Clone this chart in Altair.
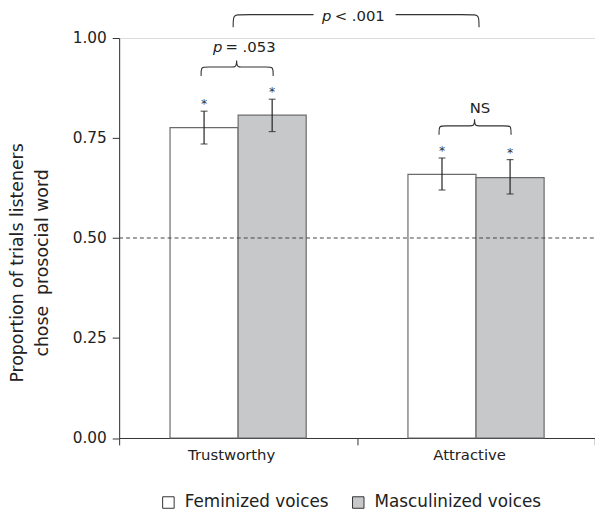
import altair as alt
import pandas as pd

# ---------------- data ----------------
categories = ["Trustworthy", "Attractive"]
series = ["Feminized voices", "Masculinized voices"]
mean_fem = [0.776, 0.659]
mean_masc = [0.807, 0.651]
lo_fem = [0.735, 0.620]
hi_fem = [0.817, 0.700]
lo_masc = [0.766, 0.610]
hi_masc = [0.847, 0.696]
significance = ["*", "*"]  # each bar differs from chance
pair_p_italic = ["p", ""]
pair_p_rest = ["= .053", "NS"]
between_p_italic = "p"
between_p_rest = "< .001"
chance_level = 0.5
y_ticks = [0.0, 0.25, 0.5, 0.75, 1.0]
y_title = ["Proportion of trials listeners", "chose\u00a0 prosocial word"]

# ---------------- layout / style ----------------
W, H = 481.2, 404.5
PXX = 2.0 / W          # data units per pixel (x)
PXY = 1.0 / H          # data units per pixel (y)
BAR_W = 68.85 * PXX
FONT = "DejaVu Sans"
TXT = "#222222"
AX = "#333333"

means = [mean_fem, mean_masc]
los = [lo_fem, lo_masc]
his = [hi_fem, hi_masc]

rows = []
for i, cat in enumerate(categories):
    for j, s in enumerate(series):
        x0 = i + 0.5 + (j - 1) * BAR_W
        rows.append(dict(cat=cat, series=s, x=x0, x2=x0 + BAR_W, xc=x0 + BAR_W / 2,
                         mean=means[j][i], lo=los[j][i], hi=his[j][i], base=0.0,
                         sig=significance[j]))
bars = pd.DataFrame(rows)

# brackets (annotation geometry derived from bar positions / error tops)
br = []
txt_it = []
txt_rg = []
levels = []
for i, cat in enumerate(categories):
    sub = bars[bars.cat == cat]
    xl = sub.xc.iloc[0] - 3 * PXX
    xr = sub.xc.iloc[1] + 1 * PXX
    xm = i + 0.5 - 1.5 * PXX
    lvl = sub.hi.max() + 32.5 * PXY
    levels.append(lvl)
    yend = lvl - 9 * PXY
    ypk = lvl + 10 * PXY
    r = 4 * PXX
    pts = [(xl, yend), (xl, lvl), (xl + r, lvl), (xm - r, lvl), (xm, lvl), (xm, ypk),
           (xm, lvl), (xm + r, lvl), (xr - r, lvl), (xr, lvl), (xr, yend)]
    for k, (px, py) in enumerate(pts):
        br.append(dict(bid=f"pair{i}", o=k, x=px, y=py))
    ty = lvl + (15.5 if i == 0 else 12.8) * PXY
    if pair_p_italic[i]:
        txt_it.append(dict(x=i + 0.5, y=ty, t=pair_p_italic[i], dx=-15.8, align="right"))
        txt_rg.append(dict(x=i + 0.5, y=ty, t=pair_p_rest[i], dx=-12.8, align="left"))
    else:
        txt_rg.append(dict(x=i + 0.5, y=ty, t=pair_p_rest[i], dx=4, align="center"))

# bracket between the two categories
blvl = levels[0] + 53 * PXY
bend = blvl - 12.7 * PXY
bxl = 0.5 - 5 * PXX
bxr = 1.5 + 3 * PXX
bxm = 1.0
r = 6 * PXX
left = [(bxl, bend), (bxl, blvl), (bxl + r, blvl), (bxm - 44 * PXX, blvl)]
right = [(bxm + 39 * PXX, blvl), (bxr - r, blvl), (bxr, blvl), (bxr, bend)]
for k, (px, py) in enumerate(left):
    br.append(dict(bid="bigL", o=k, x=px, y=py))
for k, (px, py) in enumerate(right):
    br.append(dict(bid="bigR", o=k, x=px, y=py))
bty = blvl - 6.7 * PXY
txt_it.append(dict(x=bxm, y=bty, t=between_p_italic, dx=-26, align="right"))
txt_rg.append(dict(x=bxm, y=bty, t=between_p_rest, dx=-22.7, align="left"))

brackets = pd.DataFrame(br)
t_it = pd.DataFrame(txt_it)
t_rg = pd.DataFrame(txt_rg)
rule_df = pd.DataFrame({"y": [chance_level], "x": [0.0], "x2": [2.0]})

label_expr = " : ".join(
    [f"datum.value == {i + 0.5} ? '{c}'" for i, c in enumerate(categories)]) + " : ''"

x_axis = alt.Axis(values=[0, 0.5, 1, 1.5, 2], labelExpr=label_expr, grid=False,
                  tickOpacity={"condition": {"test": "datum.value % 1 === 0", "value": 1}, "value": 0},
                  tickSize=7, tickColor=AX, domainColor=AX, labelPadding=3, labelFont=FONT,
                  labelFontSize=15, labelColor=TXT, labelOverlap=False, labelFlush=False,
                  labelOffset=-7, title=None)
y_axis = alt.Axis(values=y_ticks, format=".2f", grid=False, tickSize=7, tickColor=AX,
                  domainColor=AX, labelPadding=6, labelFont=FONT, labelFontSize=15.5,
                  labelColor=TXT, title=y_title, titleFont=FONT, titleFontSize=17.5,
                  titleFontWeight="normal", titleColor=TXT, titleAngle=-90, titleAlign="center",
                  titleBaseline="alphabetic", titleX=-97.7, titleY=227, titleLineHeight=25.6)

xs = alt.Scale(domain=[0, 2], nice=False, zero=False)
ys = alt.Scale(domain=[0, 1], nice=False)


def X(f):
    return alt.X(f, type="quantitative", scale=xs, axis=x_axis)


def Y(f):
    return alt.Y(f, type="quantitative", scale=ys, axis=y_axis)


bar_layer = alt.Chart(bars).mark_rect(stroke="#6b6b6b", strokeWidth=1.2).encode(
    x=X("x"), x2="x2", y=Y("mean"), y2="base",
    fill=alt.Fill("series:N", scale=alt.Scale(domain=series, range=["#ffffff", "#c7c8ca"]),
                  legend=alt.Legend(title=None, orient="none", legendX=41.3, legendY=461,
                                    direction="horizontal", symbolType="square",
                                    symbolSize=135, symbolStrokeColor="#333333",
                                    symbolStrokeWidth=1, labelFont=FONT, labelFontSize=17,
                                    labelColor=TXT, labelOffset=8, columnPadding=21,
                                    padding=0, labelLimit=300)))

rule_layer = alt.Chart(rule_df).mark_rule(strokeDash=[4, 3], color="#444444", strokeWidth=1).encode(
    x=X("x"), x2="x2", y=Y("y"))

err_layer = alt.Chart(bars).mark_rule(color="#222222", strokeWidth=1.2).encode(
    x=X("xc"), y=Y("lo"), y2="hi")
cap_lo = alt.Chart(bars).mark_tick(orient="horizontal", size=7, thickness=1.2, color="#222222").encode(
    x=X("xc"), y=Y("lo"))
cap_hi = alt.Chart(bars).mark_tick(orient="horizontal", size=7, thickness=1.2, color="#222222").encode(
    x=X("xc"), y=Y("hi"))
star = alt.Chart(bars).mark_text(font=FONT, fontSize=12.5, baseline="alphabetic", dy=-3).encode(
    x=X("xc"), y=Y("hi"), text="sig:N", color=alt.value("#333333"))

bracket_layer = alt.Chart(brackets).mark_line(color="#333333", strokeWidth=1.1,
                                               interpolate="basis").encode(
    x=X("x"), y=Y("y"), detail="bid:N", order="o:Q")

layers = [bar_layer, rule_layer, err_layer, cap_lo, cap_hi, star, bracket_layer]
for d in t_it.to_dict("records"):
    layers.append(alt.Chart(pd.DataFrame([d])).mark_text(
        font=FONT, fontSize=15, fontStyle="italic", fill=TXT, align=d["align"],
        baseline="alphabetic", dx=d["dx"]).encode(x=X("x"), y=Y("y"), text="t:N"))
for d in t_rg.to_dict("records"):
    layers.append(alt.Chart(pd.DataFrame([d])).mark_text(
        font=FONT, fontSize=15, fill=TXT, align=d["align"],
        baseline="alphabetic", dx=d["dx"]).encode(x=X("x"), y=Y("y"), text="t:N"))

chart = alt.layer(*layers).properties(
    width=W, height=H, autosize="none",
    padding={"left": 112.4, "top": 27.5, "right": 0, "bottom": 72},
).configure_view(stroke=None).configure(background="white")

chart.save("out.html", embed_options={"renderer": "svg", "actions": False})
